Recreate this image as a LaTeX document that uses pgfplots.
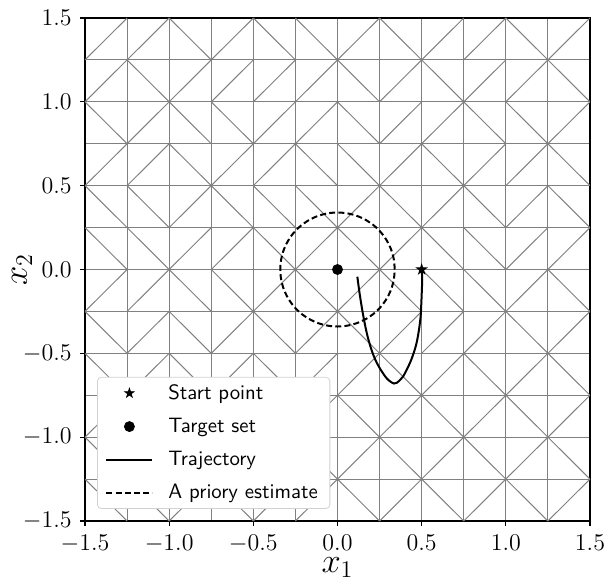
\documentclass[border=0pt]{standalone}
\usepackage{fontspec}
\usepackage{pgfplots}
\pgfplotsset{compat=1.18}
\pgfdeclareplotmark{fivestar}{%
  \pgfpathmoveto{\pgfpointpolar{90}{\pgfplotmarksize}}%
  \pgfpathlineto{\pgfpointpolar{126}{0.382\pgfplotmarksize}}%
  \pgfpathlineto{\pgfpointpolar{162}{\pgfplotmarksize}}%
  \pgfpathlineto{\pgfpointpolar{198}{0.382\pgfplotmarksize}}%
  \pgfpathlineto{\pgfpointpolar{234}{\pgfplotmarksize}}%
  \pgfpathlineto{\pgfpointpolar{270}{0.382\pgfplotmarksize}}%
  \pgfpathlineto{\pgfpointpolar{306}{\pgfplotmarksize}}%
  \pgfpathlineto{\pgfpointpolar{342}{0.382\pgfplotmarksize}}%
  \pgfpathlineto{\pgfpointpolar{18}{\pgfplotmarksize}}%
  \pgfpathlineto{\pgfpointpolar{54}{0.382\pgfplotmarksize}}%
  \pgfpathclose
  \pgfusepathqfillstroke}
\pgfplotstableread{
x y v
-1.5 1.25 0.25
-1.25 1.25 0.25
-1.0 1.5 -0.25
-0.75 1.25 0.25
-0.5 1.5 -0.25
-0.25 1.5 -0.25
0 1.25 0.25
0.25 1.5 -0.25
0.5 1.25 0.25
0.75 1.25 0.25
1.0 1.5 -0.25
1.25 1.25 0.25
-1.5 1 0.25
-1.25 1.25 -0.25
-1 1 0.25
-0.75 1 0.25
-0.5 1 0.25
-0.25 1 0.25
0 1.25 -0.25
0.25 1 0.25
0.5 1.25 -0.25
0.75 1 0.25
1 1 0.25
1.25 1.25 -0.25
-1.5 1 -0.25
-1.25 0.75 0.25
-1 1 -0.25
-0.75 1 -0.25
-0.5 0.75 0.25
-0.25 0.75 0.25
0 1 -0.25
0.25 0.75 0.25
0.5 0.75 0.25
0.75 1 -0.25
1 1 -0.25
1.25 0.75 0.25
-1.5 0.5 0.25
-1.25 0.5 0.25
-1 0.75 -0.25
-0.75 0.5 0.25
-0.5 0.5 0.25
-0.25 0.75 -0.25
0 0.75 -0.25
0.25 0.5 0.25
0.5 0.75 -0.25
0.75 0.5 0.25
1 0.5 0.25
1.25 0.75 -0.25
-1.5 0.5 -0.25
-1.25 0.5 -0.25
-1 0.25 0.25
-0.75 0.5 -0.25
-0.5 0.5 -0.25
-0.25 0.5 -0.25
0 0.25 0.25
0.25 0.5 -0.25
0.5 0.25 0.25
0.75 0.5 -0.25
1 0.25 0.25
1.25 0.5 -0.25
-1.5 0.25 -0.25
-1.25 0.25 -0.25
-1 0 0.25
-0.75 0 0.25
-0.5 0.25 -0.25
-0.25 0 0.25
0 0.25 -0.25
0.25 0 0.25
0.5 0.25 -0.25
0.75 0.25 -0.25
1 0 0.25
1.25 0 0.25
-1.5 -0.25 0.25
-1.25 -0.25 0.25
-1 0 -0.25
-0.75 0 -0.25
-0.5 -0.25 0.25
-0.25 0 -0.25
0 -0.25 0.25
0.25 0 -0.25
0.5 0 -0.25
0.75 0 -0.25
1 -0.25 0.25
1.25 0 -0.25
-1.5 -0.25 -0.25
-1.25 -0.5 0.25
-1 -0.25 -0.25
-0.75 -0.5 0.25
-0.5 -0.25 -0.25
-0.25 -0.5 0.25
0 -0.25 -0.25
0.25 -0.5 0.25
0.5 -0.5 0.25
0.75 -0.5 0.25
1 -0.25 -0.25
1.25 -0.5 0.25
-1.5 -0.5 -0.25
-1.25 -0.75 0.25
-1 -0.5 -0.25
-0.75 -0.75 0.25
-0.5 -0.5 -0.25
-0.25 -0.75 0.25
0 -0.75 0.25
0.25 -0.5 -0.25
0.5 -0.75 0.25
0.75 -0.5 -0.25
1 -0.75 0.25
1.25 -0.5 -0.25
-1.5 -1 0.25
-1.25 -0.75 -0.25
-1 -1 0.25
-0.75 -0.75 -0.25
-0.5 -1 0.25
-0.25 -1 0.25
0 -0.75 -0.25
0.25 -1 0.25
0.5 -0.75 -0.25
0.75 -1 0.25
1 -0.75 -0.25
1.25 -1 0.25
-1.5 -1 -0.25
-1.25 -1.25 0.25
-1 -1 -0.25
-0.75 -1.25 0.25
-0.5 -1 -0.25
-0.25 -1 -0.25
0 -1.25 0.25
0.25 -1 -0.25
0.5 -1.25 0.25
0.75 -1 -0.25
1 -1.25 0.25
1.25 -1 -0.25
-1.5 -1.25 -0.25
-1.25 -1.25 -0.25
-1 -1.5 0.25
-0.75 -1.25 -0.25
-0.5 -1.5 0.25
-0.25 -1.5 0.25
0 -1.25 -0.25
0.25 -1.5 0.25
0.5 -1.25 -0.25
0.75 -1.5 0.25
1 -1.25 -0.25
1.25 -1.5 0.25
}\diagtable
\begin{document}
\begin{tikzpicture}
\begin{axis}[
  scale only axis, width=252.5pt, height=251.5pt,
  xmin=-1.5, xmax=1.5, ymin=-1.5, ymax=1.5,
  xtick={-1.5,-1,-0.5,0,0.5,1,1.5},
  ytick={-1.5,-1,-0.5,0,0.5,1,1.5},
  minor xtick={-1.25,-0.75,-0.25,0.25,0.75,1.25},
  minor ytick={-1.25,-0.75,-0.25,0.25,0.75,1.25},
  grid=both,
  major grid style={gray, line width=0.5pt},
  minor grid style={gray, line width=0.5pt},
  minor tick length=0pt, major tick length=2.5pt,
  tick align=outside, tick pos=left,
  tick style={black, line width=0.6pt},
  axis line style={black, line width=0.7pt},
  /pgf/number format/.cd, fixed, fixed zerofill, precision=1, /pgfplots/.cd,
  tick label style={font=\fontsize{12}{14}\selectfont, inner sep=0pt},
  xticklabel style={anchor=north, yshift=-4.5pt},
  yticklabel style={anchor=east, xshift=-4pt},
  label style={font=\fontsize{17.28}{20}\selectfont},
  xlabel={$x_1$}, ylabel={$x_2$},
  xlabel style={at={([yshift=-25.5pt]axis description cs:0.5,0)}, anchor=base, inner sep=0pt},
  ylabel style={at={([xshift=-29pt]axis description cs:0,0.5)}, anchor=base},
  legend image code/.code={\draw[mark repeat=2,mark phase=2,#1] plot coordinates {(0pt,0pt) (11.5pt,0pt) (23pt,0pt)};},
  legend cell align=left,
  legend style={at={(0.0238,0.0239)}, anchor=south west, draw=gray!35, rounded corners=2pt,
    fill=white, font=\sffamily\fontsize{10.4}{12}\selectfont,
    inner xsep=4pt, inner ysep=1.5pt, row sep=3.9pt, nodes={inner sep=2pt},
    /tikz/every odd column/.append style={column sep=5.5pt}},
]
\addplot[forget plot, gray, line width=0.5pt, quiver={u=0.25, v=\thisrow{v}}] table[x=x, y=y] {\diagtable};

\addlegendimage{only marks, mark=fivestar, mark size=2.4pt, black, fill=black}
\addlegendentry{Start point}
\addlegendimage{only marks, mark=*, mark size=2.5pt, black}
\addlegendentry{Target set}
\addlegendimage{black, line width=1pt}
\addlegendentry{Trajectory}
\addlegendimage{black, line width=1pt, dash pattern=on 3pt off 1.6pt}
\addlegendentry{A priory estimate}

\addplot[forget plot, black, line width=1pt, dash pattern=on 3pt off 1.6pt, smooth] coordinates {
(0.34,0) (0.3348,0.0590) (0.3195,0.1163) (0.2944,0.17) (0.2605,0.2185) (0.2185,0.2605)
(0.17,0.2944) (0.1163,0.3195) (0.0590,0.3348) (0,0.34) (-0.0590,0.3348) (-0.1163,0.3195)
(-0.17,0.2944) (-0.2185,0.2605) (-0.2605,0.2185) (-0.2944,0.17) (-0.3195,0.1163) (-0.3348,0.0590)
(-0.34,0) (-0.3348,-0.0590) (-0.3195,-0.1163) (-0.2944,-0.17) (-0.2605,-0.2185) (-0.2185,-0.2605)
(-0.17,-0.2944) (-0.1163,-0.3195) (-0.0590,-0.3348) (0,-0.34) (0.0590,-0.3348) (0.1163,-0.3195)
(0.17,-0.2944) (0.2185,-0.2605) (0.2605,-0.2185) (0.2944,-0.17) (0.3195,-0.1163) (0.3348,-0.0590)
(0.34,0)};

\addplot[forget plot, black, line width=1pt, smooth] coordinates {
(0.5,0.0) (0.503,-0.05) (0.502,-0.10) (0.498,-0.20) (0.494,-0.278) (0.484,-0.36)
(0.470,-0.437) (0.452,-0.50) (0.431,-0.556) (0.41,-0.60) (0.391,-0.636) (0.37,-0.66)
(0.352,-0.676) (0.335,-0.68) (0.322,-0.674) (0.30,-0.657) (0.282,-0.636) (0.258,-0.60)
(0.233,-0.556) (0.213,-0.51) (0.195,-0.457) (0.179,-0.40) (0.165,-0.338) (0.152,-0.27)
(0.140,-0.199) (0.128,-0.12) (0.118,-0.043)};

\addplot[forget plot, only marks, mark=*, mark size=2.5pt, black] coordinates {(0,0)};
\addplot[forget plot, only marks, mark=fivestar, mark size=2.6pt, black, fill=black] coordinates {(0.5,0)};
\end{axis}
\path ([xshift=-42.5pt,yshift=-29pt]current axis.south west) rectangle ([xshift=7.5pt,yshift=9pt]current axis.north east);
\end{tikzpicture}
\end{document}
